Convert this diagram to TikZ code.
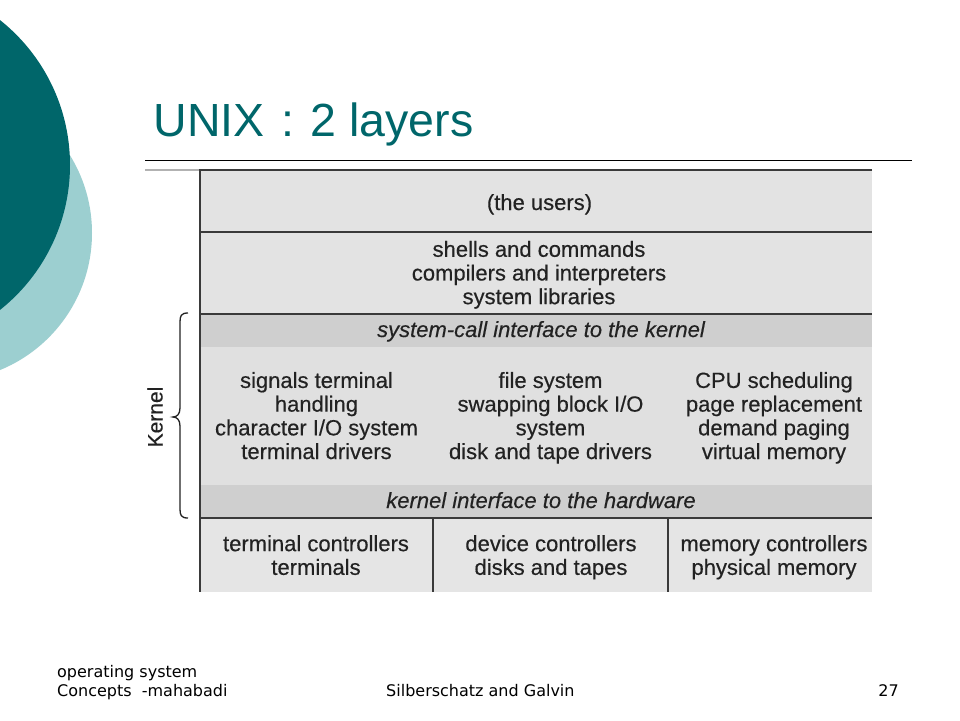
\documentclass[tikz,border=0pt]{standalone}
\usepackage{fontspec}
\setmainfont{Liberation Sans}
\newfontfamily\boxfont[FakeBold=0.4]{Liberation Sans}
\newfontfamily\footfont{DejaVu Sans}
\definecolor{darkteal}{HTML}{00666A}
\definecolor{lightteal}{HTML}{9CCFD0}
\definecolor{txtgray}{HTML}{222222}
\definecolor{usersgray}{HTML}{E3E3E3}
\definecolor{ifacegray}{HTML}{CFCFCF}
\definecolor{kerngray}{HTML}{E0E0E0}
\definecolor{hwgray}{HTML}{E5E5E5}
\definecolor{linegray}{HTML}{3A3A3A}
\begin{document}
\begin{tikzpicture}[x=1pt,y=-1pt,
  boxtxt/.style={font=\boxfont\fontsize{22}{23.7}\selectfont, text=txtgray, align=center, inner sep=0pt},
  boxline/.style={draw=linegray, line width=1.5pt},
  foottxt/.style={font=\footfont\fontsize{16}{18}\selectfont, text=black, inner sep=0pt}]
\useasboundingbox (0,0) rectangle (960,720);
\fill[white] (0,0) rectangle (960,720);
\begin{scope}
\clip (0,0) rectangle (960,720);
\fill[lightteal] (-56,233) circle[radius=148];
\fill[darkteal] (-115,165) circle[radius=185];
\end{scope}
% title
\node[anchor=base west, font=\fontsize{46.5}{50}\selectfont, text=darkteal, inner sep=0pt] (title) at (153.5,136) {UNIX\hspace{16.5pt}:\hspace{16.5pt}2 layers};
\draw[line width=1pt] (145,160) -- (912,160);
% layers
\fill[usersgray] (200,170) rectangle (872,232);
\fill[usersgray] (200,232) rectangle (872,314);
\fill[ifacegray] (200,314) rectangle (872,347);
\fill[kerngray] (200,347) rectangle (872,485);
\fill[ifacegray] (200,485) rectangle (872,518);
\fill[hwgray] (200,518) rectangle (872,592);
\draw[gray!60, line width=1.2pt] (145,170) -- (200,170);
\draw[boxline] (872,170) -- (200,170) -- (200,592);
\draw[boxline] (200,232) -- (872,232);
\draw[boxline] (200,314) -- (872,314);
\draw[boxline] (200,518) -- (872,518);
\draw[boxline] (433,518) -- (433,592);
\draw[boxline] (668,518) -- (668,592);
% texts
\node[boxtxt, anchor=base] (users) at (539.5,210) {(the users)};
\node[boxtxt] (shells) at (539,275.75) {\strut shells and commands\\compilers and interpreters\\system libraries\strut};
\node[boxtxt, anchor=base] (syscall) at (541,337) {\itshape system-call interface to the kernel};
\node[boxtxt] (k1) at (316.5,418.75) {\strut signals terminal\\handling\\character I/O system\\terminal drivers\strut};
\node[boxtxt] (k2) at (550.5,418.75) {\strut file system\\swapping block I/O\\system\\disk and tape drivers\strut};
\node[boxtxt] (k3) at (774,418.75) {\strut CPU scheduling\\page replacement\\demand paging\\virtual memory\strut};
\node[boxtxt, anchor=base] (hwif) at (541,508) {\itshape kernel interface to the hardware};
\node[boxtxt] (h1) at (316,558.25) {\strut terminal controllers\\terminals\strut};
\node[boxtxt] (h2) at (551,558.25) {\strut device controllers\\disks and tapes\strut};
\node[boxtxt] (h3) at (774,558.25) {\strut memory controllers\\physical memory\strut};
% kernel brace
\draw[line width=1.3pt, txtgray] (188,313) .. controls (181,313) and (180,316) .. (180,322) -- (180,408) .. controls (180,414) and (177,417) .. (173,417) .. controls (177,417) and (180,420) .. (180,426) -- (180,509) .. controls (180,515) and (181,518) .. (188,518);
\node[rotate=90, font=\boxfont\fontsize{21}{24}\selectfont, text=txtgray, inner sep=0pt] (kernel) at (155,417) {Kernel};
% footer
\node[foottxt, anchor=base west] (foot1) at (57,677) {operating system};
\node[foottxt, anchor=base west] (foot2) at (57,696) {Concepts\ \ -mahabadi};
\node[foottxt, anchor=base west] (foot3) at (386,696) {Silberschatz and Galvin};
\node[foottxt, anchor=base east] (foot4) at (899,696) {27};
\end{tikzpicture}
\end{document}
